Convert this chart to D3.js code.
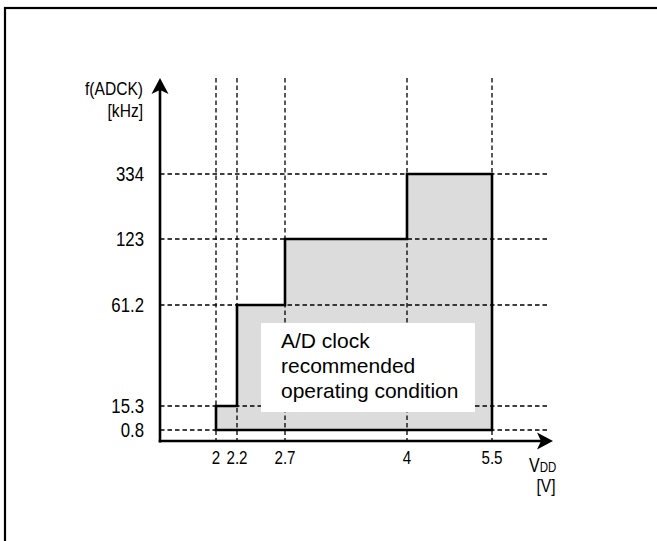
<!DOCTYPE html>
<html><head><meta charset="utf-8">
<script src="https://cdn.jsdelivr.net/npm/d3@7"></script>
<style>body{margin:0;background:#fff}svg{display:block}text{font-family:"Liberation Sans",Arial,sans-serif;fill:#000}</style>
</head><body>
<svg id="c" width="657" height="541"></svg>
<script>
// Data
const voltages = [2, 2.2, 2.7, 4, 5.5];
const freqTicks = [0.8, 15.3, 61.2, 123, 334];
const freqLabels = ["0.8", "15.3", "61.2", "123", "334"];
const voltLabels = ["2", "2.2", "2.7", "4", "5.5"];
const stepStart = [2, 2.2, 2.7, 4];
const stepEnd = [2.2, 2.7, 4, 5.5];
const stepFreq = [15.3, 61.2, 123, 334];
const minFreq = 0.8;
const boxLines = ["A/D clock", "recommended", "operating condition"];

// Layout
const svg = d3.select("#c");
const ox = 160, oy = 441;
const xRange = [216, 237, 285, 407, 492];
const yRange = [430, 406, 305, 239, 174];
const x = d3.scaleLinear().domain(voltages).range(xRange);
const y = d3.scaleLinear().domain(freqTicks).range(yRange);
const SX = 0.82; // condensed label look

// frame
svg.append("rect").attr("x",5).attr("y",8).attr("width",700).attr("height",600)
  .attr("fill","none").attr("stroke","#000").attr("stroke-width",2.2);

// step polygon
const pts = [[stepStart[0], minFreq]];
stepStart.forEach((s,i)=>{ pts.push([s, stepFreq[i]]); pts.push([stepEnd[i], stepFreq[i]]); });
pts.push([stepEnd[stepEnd.length-1], minFreq]);
const line = d3.line().x(d=>x(d[0])).y(d=>y(d[1])).curve(d3.curveLinearClosed);
svg.append("path").attr("d", line(pts)).attr("fill","#dcdcdc").attr("stroke","none");

// dashed grid
const dash = "4.5,3";
svg.append("g").selectAll("line").data(voltages).join("line")
  .attr("x1",d=>x(d)).attr("x2",d=>x(d)).attr("y1",78).attr("y2",oy)
  .attr("stroke","#000").attr("stroke-width",1.3).attr("stroke-dasharray",dash);
svg.append("g").selectAll("line").data(freqTicks).join("line")
  .attr("x1",ox).attr("x2",550).attr("y1",d=>y(d)).attr("y2",d=>y(d))
  .attr("stroke","#000").attr("stroke-width",1.3).attr("stroke-dasharray",dash);

// text box
svg.append("rect").attr("x",261).attr("y",323).attr("width",214).attr("height",89).attr("fill","#fff");
svg.append("g").selectAll("text").data(boxLines).join("text")
  .attr("x",281).attr("y",(d,i)=>348+i*25).attr("font-size",21).text(d=>d);

// outline
svg.append("path").attr("d", line(pts)).attr("fill","none").attr("stroke","#000").attr("stroke-width",2.6).attr("stroke-linejoin","miter");

// axes
svg.append("line").attr("x1",ox).attr("x2",ox).attr("y1",oy+1.5).attr("y2",88).attr("stroke","#000").attr("stroke-width",2.6);
svg.append("line").attr("x1",ox-1.3).attr("x2",543).attr("y1",oy).attr("y2",oy).attr("stroke","#000").attr("stroke-width",2.6);
svg.append("path").attr("d",`M${ox},78 L${ox+8.5},94 L${ox},90 L${ox-8.5},94 Z`).attr("fill","#000");
svg.append("path").attr("d",`M553,${oy} L537,${oy+8.5} L541,${oy} L537,${oy-8.5} Z`).attr("fill","#000");

// condensed text helper
function ctext(px, py, str, size, anchor, dy) {
  const t = svg.append("text").attr("transform",`translate(${px},${py}) scale(${SX},1)`)
    .attr("text-anchor",anchor||"start").attr("font-size",size).text(str);
  if (dy) t.attr("dy",dy);
  return t;
}
// y tick labels
freqTicks.forEach((d,i)=>ctext(144, y(d), freqLabels[i], 20.5, "end", "0.36em"));
// x tick labels
voltages.forEach((d,i)=>ctext(x(d), 464, voltLabels[i], 18.5, "middle"));

// axis titles
ctext(143, 95, "f(ADCK)", 19, "end");
ctext(143, 117, "[kHz]", 19, "end");
const vt = ctext(529, 472, "", 19.5, "start");
vt.append("tspan").text("V");
vt.append("tspan").attr("font-size",14).text("DD");
ctext(546, 492, "[V]", 19, "middle");
</script>
</body></html>
